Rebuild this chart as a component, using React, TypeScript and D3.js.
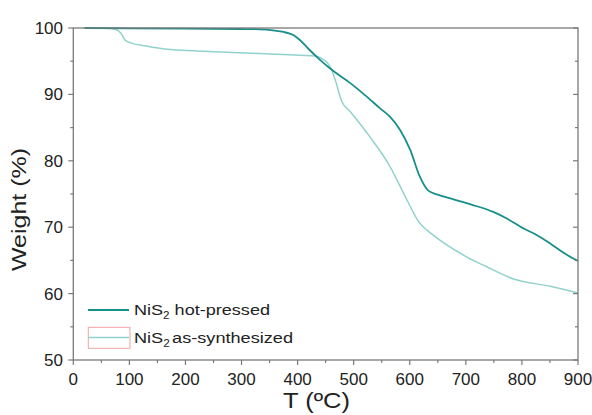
import React from "react";
import * as d3 from "d3";

const hotT = [20, 100, 200, 300, 333, 375, 393, 404, 420, 440, 458, 494, 520, 547, 565, 583, 601, 618, 633, 650, 678, 710, 749, 773, 803, 827, 851, 875, 900];
const hotW = [100, 99.95, 99.9, 99.85, 99.8, 99.4, 98.9, 98.2, 96.8, 95.2, 93.9, 91.7, 89.9, 87.9, 86.6, 84.6, 81.6, 77.6, 75.5, 74.9, 74.2, 73.4, 72.3, 71.3, 69.8, 68.8, 67.5, 66.1, 64.9];
const asT = [20, 60, 75, 85, 92, 101, 130, 167, 220, 285, 350, 404, 431, 445, 458, 467, 479, 494, 529, 565, 595, 616, 642, 702, 738, 785, 851, 900];
const asW = [100, 99.95, 99.8, 99.2, 98.2, 97.8, 97.3, 96.8, 96.55, 96.3, 96.1, 95.9, 95.8, 95.3, 94.2, 92.2, 88.9, 87.4, 83.6, 79.1, 74.1, 70.8, 68.8, 65.5, 64.0, 62.2, 61.1, 60.1];
const xTicks = [0, 100, 200, 300, 400, 500, 600, 700, 800, 900];
const xMinor = [50, 150, 250, 350, 450, 550, 650, 750, 850];
const yTicks = [50, 60, 70, 80, 90, 100];
const yMinor = [55, 65, 75, 85, 95];

const DARK = "#178f8b";
const LIGHT = "#92d2cd";
const AXIS = "#7a7a7a";
const FONT = "'Liberation Sans', Arial, sans-serif";

export default function App() {
  const x = d3.scaleLinear().domain([0, 900]).range([73.3, 578]);
  const y = d3.scaleLinear().domain([50, 100]).range([360, 28]);
  const line = d3
    .line<[number, number]>()
    .x((d) => x(d[0]))
    .y((d) => y(d[1]))
    .curve(d3.curveMonotoneX);
  const hot = hotT.map((t, i) => [t, hotW[i]] as [number, number]);
  const as = asT.map((t, i) => [t, asW[i]] as [number, number]);
  const [x0, x1] = x.range();
  const [yb, yt] = y.range();

  return (
    <svg width={592} height={415} style={{ position: "absolute", left: 0, top: 0, background: "#fff" }} fontFamily={FONT}>
      <path d={line(as) || ""} fill="none" stroke={LIGHT} strokeWidth={1.5} />
      <path d={line(hot) || ""} fill="none" stroke={DARK} strokeWidth={1.8} />
      <rect x={x0} y={yt} width={x1 - x0} height={yb - yt} fill="none" stroke={AXIS} strokeWidth={1.3} />
      {xTicks.map((t) => (
        <g key={"xt" + t}>
          <line x1={x(t)} x2={x(t)} y1={yb} y2={yb + 5} stroke={AXIS} strokeWidth={1.2} />
          <text x={x(t)} y={385} textAnchor="middle" fontSize={17} fill="#222">{t}</text>
        </g>
      ))}
      {xMinor.map((t) => (
        <line key={"xm" + t} x1={x(t)} x2={x(t)} y1={yb} y2={yb + 3} stroke={AXIS} strokeWidth={1.2} />
      ))}
      {yTicks.map((t) => (
        <g key={"yt" + t}>
          <line x1={x0 - 5} x2={x0} y1={y(t)} y2={y(t)} stroke={AXIS} strokeWidth={1.2} />
          <line x1={x1 - 5} x2={x1} y1={y(t)} y2={y(t)} stroke={AXIS} strokeWidth={1.2} />
          <text x={63} y={y(t) + 6} textAnchor="end" fontSize={17} fill="#222">{t}</text>
        </g>
      ))}
      {yMinor.map((t) => (
        <g key={"ym" + t}>
          <line x1={x0 - 3} x2={x0} y1={y(t)} y2={y(t)} stroke={AXIS} strokeWidth={1.2} />
          <line x1={x1 - 3} x2={x1} y1={y(t)} y2={y(t)} stroke={AXIS} strokeWidth={1.2} />
        </g>
      ))}
      <text x={283} y={408} fontSize={22} fill="#222" textLength={67} lengthAdjust="spacingAndGlyphs">T (ºC)</text>
      <text transform="translate(26,271) rotate(-90)" x={0} y={0} fontSize={20} fill="#222" textLength={123} lengthAdjust="spacingAndGlyphs">Weight (%)</text>
      {/* legend */}
      <line x1={88} x2={129} y1={310} y2={310} stroke={DARK} strokeWidth={1.8} />
      <text x={134} y={315} fontSize={15.5} fill="#222" textLength={136} lengthAdjust="spacingAndGlyphs">
        NiS<tspan fontSize={10} dy={4}>2</tspan><tspan dy={-4}> hot-pressed</tspan>
      </text>
      <rect x={88.3} y={327.3} width={41.7} height={21} fill="none" stroke="#f4a3a3" strokeWidth={1} />
      <line x1={88} x2={129} y1={337.5} y2={337.5} stroke={LIGHT} strokeWidth={1.5} />
      <text x={134} y={343.3} fontSize={15.5} fill="#222" textLength={159} lengthAdjust="spacingAndGlyphs">
        NiS<tspan fontSize={10} dy={4}>2</tspan><tspan dy={-4} dx={2}>as-synthesized</tspan>
      </text>
    </svg>
  );
}
